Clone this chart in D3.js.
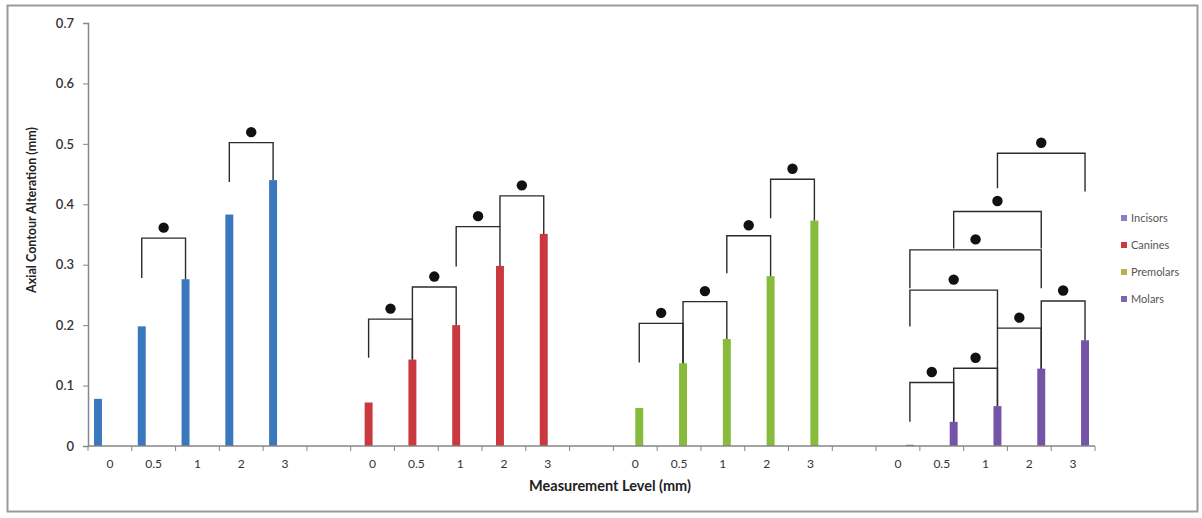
<!DOCTYPE html>
<html>
<head>
<meta charset="utf-8">
<script src="https://cdn.jsdelivr.net/npm/d3@7"></script>
<style>
  body { margin: 0; background: #fff; }
  svg { display: block; font-family: Lato, "Open Sans", "Liberation Sans", sans-serif; }
</style>
</head>
<body>
<svg id="chart" width="1202" height="518"></svg>
<script>
// ---- data ----
const categories = ["0", "0.5", "1", "2", "3"];
const seriesNames = ["Incisors", "Canines", "Premolars", "Molars"];
const incisors  = [0.078, 0.198, 0.276, 0.383, 0.440];
const canines   = [0.072, 0.143, 0.200, 0.298, 0.351];
const premolars = [0.063, 0.137, 0.177, 0.281, 0.373];
const molars    = [0.002, 0.040, 0.066, 0.128, 0.175];
const seriesValues = [incisors, canines, premolars, molars];
const seriesColors = ["#3a78bd", "#c9393f", "#86bb3c", "#7554a8"];
const legendColors = ["#8a7fc4", "#c9393f", "#b9b24a", "#7a66a8"];
const yTicks = [0, 0.1, 0.2, 0.3, 0.4, 0.5, 0.6, 0.7];

// significance brackets: series index, from category, to category, level, left leg end, right leg end
const bracketSeries = [0, 0, 1, 1, 1, 1, 2, 2, 2, 2, 3, 3, 3, 3, 3, 3, 3, 3];
const bracketFrom   = [1, 3, 0, 1, 2, 3, 0, 1, 2, 3, 2, 1, 0, 0, 2, 3, 1, 0];
const bracketTo     = [2, 4, 1, 2, 3, 4, 1, 2, 3, 4, 4, 3, 3, 2, 3, 4, 2, 1];
const bracketLevel  = [0.344, 0.502, 0.210, 0.263, 0.363, 0.414, 0.203, 0.239, 0.348, 0.4415,
                       0.4845, 0.388, 0.3245, 0.258, 0.195, 0.240, 0.1286, 0.105];
const bracketLeft   = [0.278, 0.437, 0.146, 0.143, 0.297, 0.363, 0.138, 0.137, 0.286, 0.377,
                       0.4266, 0.327, 0.261, 0.1976, 0.066, 0.128, 0.040, 0.040];
const bracketRight  = [0.276, 0.440, 0.143, 0.200, 0.298, 0.351, 0.137, 0.177, 0.281, 0.373,
                       0.421, 0.327, 0.261, 0.195, 0.128, 0.175, 0.066, 0.040];

// ---- layout ----
const svg = d3.select("#chart");
const plotLeft = 88, plotRight = 1095, plotTop = 23, plotBottom = 446;

// slots: 5 categories per series group, one empty slot between groups
const slots = [];
seriesNames.forEach((s, g) => {
  categories.forEach((c, i) => slots.push({ key: g + "-" + i, label: c, g, i }));
  if (g < seriesNames.length - 1) slots.push({ key: "gap" + g, label: "", g: -1, i: -1 });
});

const x = d3.scaleBand().domain(slots.map(d => d.key)).range([plotLeft, plotRight]).padding(0);
const inner = d3.scaleBand().domain(seriesNames).range([6, x.bandwidth() - 6]).paddingInner(0);
const y = d3.scaleLinear().domain([0, 0.7]).range([plotBottom, plotTop]);

const barCenter = (g, i) => x(g + "-" + i) + inner(seriesNames[g]) + inner.bandwidth() / 2;

// outer border
svg.append("rect").attr("x", 7.5).attr("y", 5.5).attr("width", 1190).attr("height", 506)
  .attr("fill", "none").attr("stroke", "#9a9a9a").attr("stroke-width", 2);

// bars
const barData = [];
seriesValues.forEach((vals, g) => vals.forEach((v, i) => barData.push({ g, i, v })));
svg.append("g").selectAll("rect").data(barData).join("rect")
  .attr("x", d => x(d.g + "-" + d.i) + inner(seriesNames[d.g]))
  .attr("width", inner.bandwidth())
  .attr("y", d => y(d.v))
  .attr("height", d => y(0) - y(d.v))
  .attr("fill", d => seriesColors[d.g]);

// y axis
const yAxis = svg.append("g").attr("transform", `translate(${plotLeft},0)`)
  .call(d3.axisLeft(y).tickValues(yTicks).tickFormat(d => d === 0 ? "0" : d3.format(".1f")(d)).tickSize(5).tickPadding(9));
yAxis.select(".domain").attr("stroke", "#868686").attr("stroke-width", 1.5);
yAxis.selectAll(".tick line").attr("stroke", "#868686");
yAxis.selectAll("text").attr("font-size", 13).attr("fill", "#333").attr("font-weight", 600)
  .attr("font-family", "Lato, sans-serif");

// x axis: ticks at slot boundaries, labels centred in slots
const xg = svg.append("g").attr("transform", `translate(0,${plotBottom})`);
xg.append("line").attr("x1", plotLeft).attr("x2", plotRight).attr("y1", 0).attr("y2", 0)
  .attr("stroke", "#868686").attr("stroke-width", 1.5);
const boundaries = slots.map(d => x(d.key)).concat([plotRight]);
xg.selectAll("line.tk").data(boundaries).join("line").attr("class", "tk")
  .attr("x1", d => d).attr("x2", d => d).attr("y1", 0).attr("y2", 5)
  .attr("stroke", "#868686");
xg.selectAll("text").data(slots.filter(d => d.label !== "")).join("text")
  .attr("x", d => x(d.key) + x.bandwidth() / 2)
  .attr("y", 22)
  .attr("text-anchor", "middle")
  .attr("font-size", 12).attr("fill", "#333")
  .text(d => d.label);

// axis titles
svg.append("text").attr("x", 610).attr("y", 491).attr("text-anchor", "middle")
  .attr("font-size", 14.5).attr("font-weight", 700).attr("fill", "#222")
  .text("Measurement Level (mm)");
svg.append("text").attr("transform", "translate(36,210) rotate(-90)").attr("text-anchor", "middle")
  .attr("font-size", 12.5).attr("font-weight", 700).attr("fill", "#222")
  .text("Axial Contour Alteration (mm)");

// brackets
const bg = svg.append("g");
bracketSeries.forEach((g, k) => {
  const x1 = barCenter(g, bracketFrom[k]);
  const x2 = barCenter(g, bracketTo[k]);
  const yl = y(bracketLevel[k]);
  bg.append("path")
    .attr("d", `M${x1},${y(bracketLeft[k])}V${yl}H${x2}V${y(bracketRight[k])}`)
    .attr("fill", "none").attr("stroke", "#2b2b2b").attr("stroke-width", 1.4);
  bg.append("circle").attr("cx", (x1 + x2) / 2).attr("cy", yl - 10.5).attr("r", 5.2)
    .attr("fill", "#111");
});

// legend
const lg = svg.append("g");
const legendY = d3.scalePoint().domain(seriesNames).range([218, 299]);
seriesNames.forEach((s, k) => {
  lg.append("rect").attr("x", 1121).attr("y", legendY(s) - 3).attr("width", 6).attr("height", 6)
    .attr("fill", legendColors[k]);
  lg.append("text").attr("x", 1131).attr("y", legendY(s) + 4)
    .attr("font-size", 11).attr("fill", "#555").text(s);
});
</script>
</body>
</html>
